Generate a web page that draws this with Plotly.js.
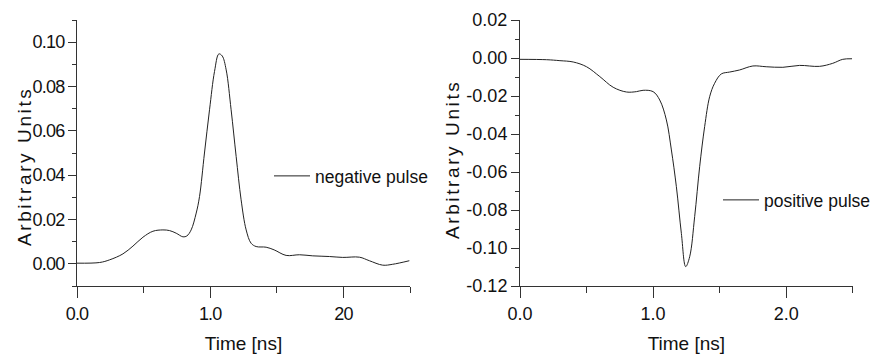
<!DOCTYPE html>
<html><head><meta charset="utf-8">
<script src="https://cdn.plot.ly/plotly-3.0.1.min.js"></script>
<style>
html,body{margin:0;padding:0;background:#fff;}
#chart{width:874px;height:358px;}
.annotation-text{letter-spacing:2.6px;}
.xtick text,.ytick text{letter-spacing:-0.8px;}
</style></head><body><div id="chart"></div>
<script>
// negative pulse (left panel)
const negT = [0, 0.17, 0.245, 0.345, 0.42, 0.495, 0.57, 0.645, 0.695, 0.745, 0.795, 0.825, 0.857, 0.895, 0.92, 0.957, 0.995, 1.0325, 1.065, 1.09, 1.12, 1.157, 1.195, 1.232, 1.27, 1.307, 1.345, 1.42, 1.48, 1.57, 1.67, 1.77, 1.895, 1.995, 2.12, 2.195, 2.295, 2.37, 2.495];
const negV = [0.0003, 0.0006, 0.0018, 0.0045, 0.008, 0.012, 0.0147, 0.0153, 0.015, 0.0138, 0.0122, 0.0126, 0.0153, 0.0229, 0.0304, 0.050, 0.0695, 0.0868, 0.0947, 0.0938, 0.0875, 0.0695, 0.0484, 0.0289, 0.0153, 0.0093, 0.0078, 0.0075, 0.0063, 0.0038, 0.0041, 0.0036, 0.0033, 0.0029, 0.003, 0.0014, -0.0006, -0.0002, 0.0014];
// positive pulse (right panel)
const posT = [0, 0.2, 0.3, 0.4, 0.5, 0.6, 0.7, 0.8, 0.875, 0.925, 1.0, 1.05, 1.1, 1.1375, 1.175, 1.2125, 1.245, 1.275, 1.3125, 1.35, 1.3875, 1.425, 1.4625, 1.5125, 1.575, 1.65, 1.75, 1.85, 1.975, 2.1, 2.25, 2.35, 2.425, 2.495];
const posV = [-0.0007, -0.0009, -0.0014, -0.0021, -0.0046, -0.0098, -0.0154, -0.0179, -0.0177, -0.017, -0.0177, -0.0221, -0.0326, -0.0484, -0.0677, -0.0923, -0.1098, -0.1046, -0.0835, -0.0572, -0.0361, -0.0204, -0.0133, -0.0084, -0.0074, -0.0063, -0.0042, -0.0046, -0.0049, -0.0039, -0.0044, -0.0028, -0.0007, -0.0004];

const leftXTickVals = [0, 1, 2];
const leftXTickText = ['0.0', '1.0', '20'];
const leftYTickVals = [0, 0.02, 0.04, 0.06, 0.08, 0.10];
const leftYTickText = ['0.00', '0.02', '0.04', '0.06', '0.08', '0.10'];
const rightXTickVals = [0, 1, 2];
const rightXTickText = ['0.0', '1.0', '2.0'];
const rightYTickVals = [-0.12, -0.10, -0.08, -0.06, -0.04, -0.02, 0, 0.02];
const rightYTickText = ['-0.12', '-0.10', '-0.08', '-0.06', '-0.04', '-0.02', '0.00', '0.02'];
const xTitle = 'Time [ns]';
const yTitle = 'Arbitrary Units';

const FONT = 'Liberation Sans, Arial, sans-serif';
const AX = '#333';

const traces = [
  {x: negT, y: negV, type: 'scatter', mode: 'lines', name: 'negative pulse',
   line: {color: '#222', width: 1, shape: 'spline', smoothing: 1}, xaxis: 'x', yaxis: 'y', legend: 'legend'},
  {x: posT, y: posV, type: 'scatter', mode: 'lines', name: 'positive pulse',
   line: {color: '#222', width: 1, shape: 'spline', smoothing: 1}, xaxis: 'x2', yaxis: 'y2', legend: 'legend2'}
];

function xa(dom, vals, text) {
  return {domain: dom, range: [0, 2.5], showgrid: false, zeroline: false, showline: true,
    linecolor: AX, linewidth: 1, ticks: 'outside', ticklen: 11, tickcolor: AX, tickwidth: 1,
    tickmode: 'array', tickvals: vals, ticktext: text, automargin: false,
    minor: {dtick: 0.5, tick0: 0, ticks: 'outside', ticklen: 6, tickcolor: AX, showgrid: false},
    tickfont: {family: FONT, size: 18, color: '#111'},
    title: {text: xTitle, font: {family: FONT, size: 19, color: '#111'}, standoff: 14}};
}
function ya(dom, range, vals, text, anchor) {
  return {domain: dom, range: range, showgrid: false, zeroline: false, showline: true,
    linecolor: AX, linewidth: 1, ticks: 'outside', ticklen: 8, tickcolor: AX, tickwidth: 1,
    tickmode: 'array', tickvals: vals, ticktext: text, anchor: anchor, automargin: false,
    minor: {dtick: 0.01, tick0: 0, ticks: 'outside', ticklen: 4, tickcolor: AX, showgrid: false},
    tickfont: {family: FONT, size: 18, color: '#111'}};
}

const yd = [1 - 286/358, 1 - 20/358];
const layout = {
  width: 874, height: 358, margin: {l: 0, r: 0, t: 0, b: 0, autoexpand: false},
  paper_bgcolor: '#fff', plot_bgcolor: '#fff',
  font: {family: FONT, color: '#111'},
  xaxis: Object.assign(xa([77/874, 410/874], leftXTickVals, leftXTickText), {anchor: 'y'}),
  yaxis: ya(yd, [-0.01, 0.11], leftYTickVals, leftYTickText, 'x'),
  xaxis2: Object.assign(xa([520/874, 852.7/874], rightXTickVals, rightXTickText), {anchor: 'y2'}),
  yaxis2: ya(yd, [-0.12, 0.02], rightYTickVals, rightYTickText, 'x2'),
  legend: {x: 269/874, y: 1 - 176/358, xanchor: 'left', yanchor: 'middle', bgcolor: 'rgba(0,0,0,0)',
    itemwidth: 36, font: {family: FONT, size: 17.5, color: '#111'}},
  legend2: {x: 718/874, y: 1 - 200/358, xanchor: 'left', yanchor: 'middle', bgcolor: 'rgba(0,0,0,0)',
    itemwidth: 36, font: {family: FONT, size: 17.5, color: '#111'}},
  annotations: [
    {text: yTitle, textangle: -90, xref: 'paper', yref: 'paper', x: 25/874, y: 1 - 167/358,
     xanchor: 'center', yanchor: 'middle', showarrow: false, font: {family: FONT, size: 19, color: '#111'}},
    {text: yTitle, textangle: -90, xref: 'paper', yref: 'paper', x: 452/874, y: 1 - 160/358,
     xanchor: 'center', yanchor: 'middle', showarrow: false, font: {family: FONT, size: 19, color: '#111'}}
  ],
  showlegend: true
};
Plotly.newPlot('chart', traces, layout, {staticPlot: true, displayModeBar: false});
</script></body></html>
